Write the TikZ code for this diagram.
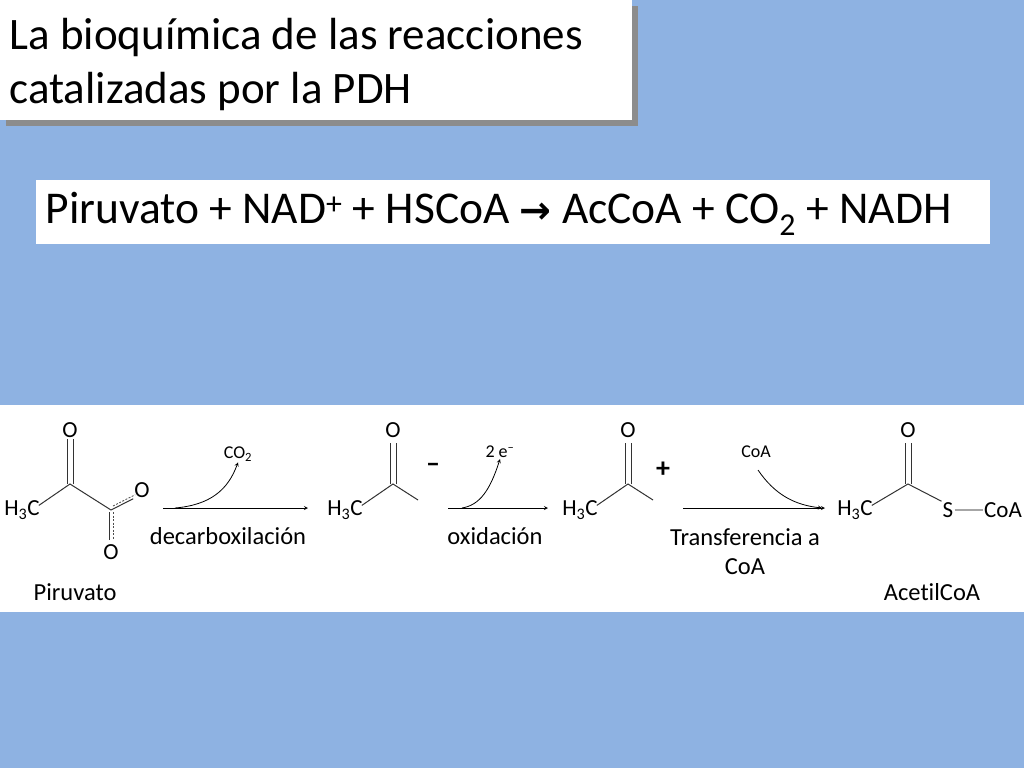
\documentclass[tikz,border=0pt]{standalone}
\usepackage{fontspec}
\usetikzlibrary{calc}
\setmainfont{Carlito}[Ligatures={NoCommon}]
\newfontfamily\dv{DejaVu Sans}
\begin{document}
\begin{tikzpicture}[x=1pt,y=-1pt,
  bond/.style={line width=1pt,black!80},
  dbond/.style={line width=0.8pt,black!70,dashed,dash pattern=on 2pt off 1.5pt},
  atom/.style={font=\fontsize{23}{23}\selectfont,inner sep=1pt},
  lbl/.style={font=\fontsize{24.5}{29}\selectfont,align=center},
  sm/.style={font=\fontsize{18}{18}\selectfont,inner sep=1pt},
  rarr/.style={line width=0.8pt,-stealth},
  carr/.style={line width=0.8pt,-stealth}]
\useasboundingbox (0,0) rectangle (1024,768);
\fill[fill={rgb,255:red,142;green,178;blue,226}] (0,0) rectangle (1024,768);
% title
\fill[black!45] (6,6) rectangle (638,126);
\fill[white] (0,0) rectangle (632,120);
\node[anchor=west,align=left,font=\fontsize{45}{54}\selectfont] (title) at (6,65) {La bioquímica de las reacciones\\catalizadas por la PDH};
% equation
\fill[white] (36,180) rectangle (990,244);
\node[anchor=west,font=\fontsize{45.5}{46}\selectfont] (eq) at (42,214) {Piruvato + NAD\textsuperscript{+} + HSCoA {\dv\fontsize{38}{38}\selectfont\bfseries →} AcCoA + CO\textsubscript{2} + NADH};
% strip
\fill[white] (0,405) rectangle (1024,612);
% pyruvate
\node[atom] (h1) at (22,510) {H\textsubscript{3}C};
\coordinate (c1) at (70,484);
\node[atom] (o1) at (70,430) {O};
\coordinate (c2) at (111,510);
\node[atom] (o2) at (142,490) {O};
\node[atom] (o3) at (111,552) {O};
\draw[bond] (h1.north east) ++(-2,6) -- (c1) -- (c2);
\draw[bond] (67,484) -- (o1.south -| 67,0); \draw[bond] (73,484) -- (o1.south -| 73,0);
\draw[bond] (c2) -- (o2.south west);
\draw[dbond] ($(c2)+(2,-4)$) -- ($(o2.south west)+(2,-4)$);
\draw[bond] (109,512) -- (109,540); \draw[dbond] (113,512) -- (113,540);
\node[lbl] (pir) at (75,592) {Piruvato};
% arrow 1
\coordinate (a1s) at (163,508); \coordinate (a1e) at (308,508);
\draw[rarr] (a1s) -- (a1e);
\node[sm] (co2) at (238,454) {CO\textsubscript{2}};
\draw[carr] (175,508) .. controls (210,505) and (228,490) .. (co2.south);
\node[lbl] (dec) at (228,536) {decarboxilación};
% acetyl 1
\node[atom] (h2) at (345,510) {H\textsubscript{3}C};
\coordinate (c3) at (393,484);
\node[atom] (o4) at (393,430) {O};
\draw[bond] (h2.north east) ++(-2,6) -- (c3) -- (418,500);
\draw[bond] (390,484) -- (390,443); \draw[bond] (396,484) -- (396,443);
\node[font=\fontsize{28}{28}\selectfont\bfseries] (minus) at (433,468) {–};
% arrow 2
\draw[rarr] (448,508) -- (548,508);
\node[sm] (e2) at (500,452) {2 e\textsuperscript{–}};
\draw[carr] (462,508) .. controls (480,505) and (490,490) .. (e2.south);
\node[lbl] (ox) at (495,536) {oxidación};
% acetyl 2
\node[atom] (h3) at (580,510) {H\textsubscript{3}C};
\coordinate (c4) at (628,484);
\node[atom] (o5) at (628,430) {O};
\draw[bond] (h3.north east) ++(-2,6) -- (c4) -- (653,500);
\draw[bond] (625,484) -- (625,443); \draw[bond] (631,484) -- (631,443);
\node[font=\fontsize{28}{28}\selectfont\bfseries] (plus) at (663,470) {+};
% arrow 3
\draw[rarr] (683,508) -- (825,508);
\node[sm] (coa1) at (756,452) {CoA};
\draw[carr] (758,470) .. controls (775,495) and (795,505) .. (822,508);
\node[lbl] (tr) at (745,552) {Transferencia a\\CoA};
% acetyl CoA
\node[atom] (h4) at (855,510) {H\textsubscript{3}C};
\coordinate (c5) at (908,484);
\node[atom] (o6) at (908,430) {O};
\node[atom] (s) at (948,510) {S};
\node[atom] (coa2) at (1003,510) {CoA};
\draw[bond] (h4.north east) ++(-2,6) -- (c5) -- (s.north west);
\draw[bond] (905,484) -- (905,443); \draw[bond] (911,484) -- (911,443);
\draw[line width=2.5pt,black!35] (s.east) -- (coa2.west);
\node[lbl] (acc) at (932,592) {AcetilCoA};
\end{tikzpicture}
\end{document}
